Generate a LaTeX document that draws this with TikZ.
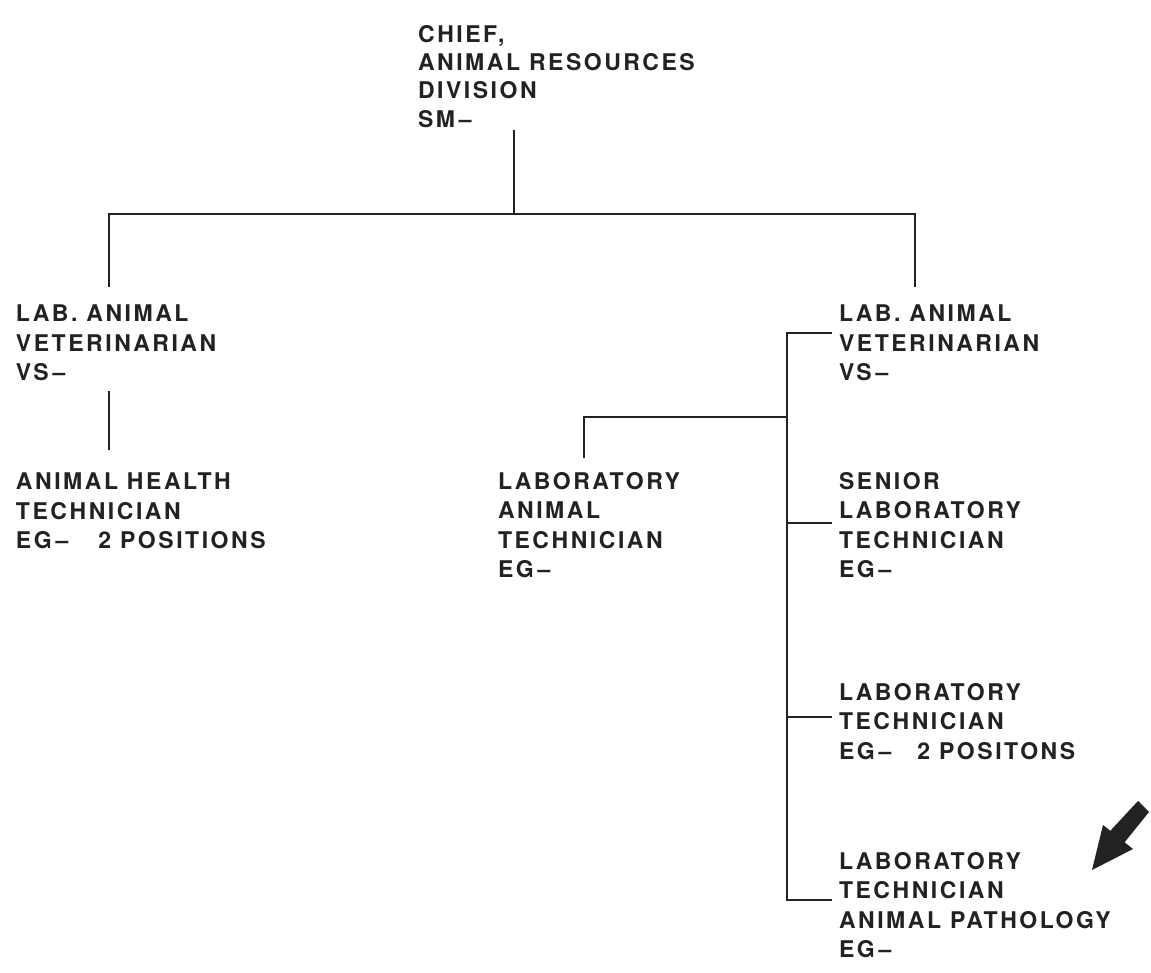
\documentclass[tikz,border=0pt]{standalone}
\usepackage{fontspec}
\newfontfamily\orgfont{texgyreheros-bold}[Extension=.otf, LetterSpace=11]
\usetikzlibrary{calc}
\definecolor{ink}{HTML}{222222}
\begin{document}
\begin{tikzpicture}[x=1pt,y=-1pt,
  post/.style={anchor=north west, inner sep=0pt, outer sep=0pt, align=left,
    text=ink, font=\orgfont\fontsize{23}{29.5}\selectfont},
  link/.style={draw=ink, line width=2.6pt, line cap=butt, line join=miter},
  pointer/.style={fill=ink, draw=none}]
\useasboundingbox (0,0) rectangle (1151,973);
\fill[white] (0,0) rectangle (1151,973);

% positions
\node[post, font=\orgfont\fontsize{23}{28.4}\selectfont] (chief) at (418,25)
  {CHIEF,\\ANIMAL RESOURCES\\DIVISION\\SM\,–};
\node[post] (vetL) at (16,305) {LAB. ANIMAL\\VETERINARIAN\\VS\,–};
\node[post] (vetR) at (839,305) {LAB. ANIMAL\\VETERINARIAN\\VS\,–};
\node[post] (aht) at (16,473) {ANIMAL HEALTH\\TECHNICIAN\\EG\,–\hspace{30pt}2 POSITIONS};
\node[post] (lat) at (498,472) {LABORATORY\\ANIMAL\\TECHNICIAN\\EG\,–};
\node[post] (slt) at (839,472) {SENIOR\\LABORATORY\\TECHNICIAN\\EG\,–};
\node[post] (lt) at (839,683) {LABORATORY\\TECHNICIAN\\EG\,–\hspace{26pt}2 POSITONS};
\node[post] (ltap) at (839,852) {LABORATORY\\TECHNICIAN\\ANIMAL PATHOLOGY\\EG\,–};

% junction points
\coordinate (bus) at (514,214);
\coordinate (busL) at (109,214);
\coordinate (busR) at (915,214);
\coordinate (spineT) at (787,333);
\coordinate (spineB) at (787,900);
\coordinate (spineM) at (787,417);
\coordinate (latJ) at (584,417);

% chief to the two veterinarians
\draw[link] ([yshift=-2]chief.south -| bus) -- (bus);
\draw[link] ([yshift=18]vetL.north -| busL) -- (busL) -- (busR) -- ([yshift=18]vetR.north -| busR);

% left veterinarian to health technician
\draw[link] ([yshift=-10]vetL.south -| busL) -- ([yshift=23]aht.north -| busL);

% right veterinarian spine and its branches
\draw[link] ($(vetR.north west)+(-7,28)$) -- (spineT) -- (spineB) -- ($(ltap.north west)+(-7,48)$);
\draw[link] (spineM) -- (latJ) -- ([yshift=14]lat.north -| latJ);
\draw[link] (spineT |- slt.north) ++(0,51) -- ($(slt.north west)+(-7,51)$);
\draw[link] (spineT |- lt.north) ++(0,34) -- ($(lt.north west)+(-7,34)$);

% pointer arrow
\fill[pointer] (1138,801) -- (1149,812) -- (1124.6,842.3) -- (1133,849) -- (1092,870)
  -- (1103,825) -- (1110.3,830.8) -- cycle;
\end{tikzpicture}
\end{document}
